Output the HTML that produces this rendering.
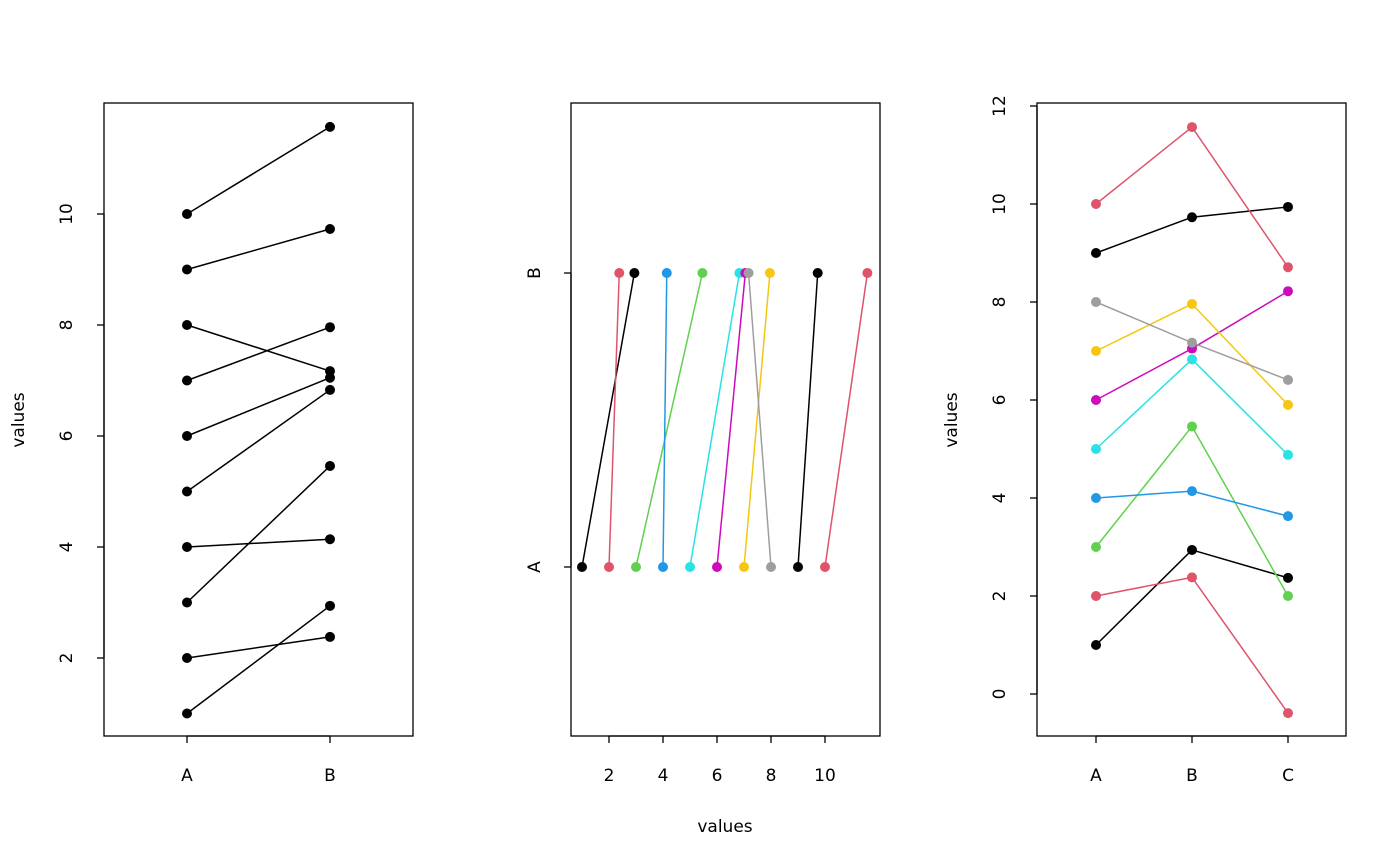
<!DOCTYPE html>
<html><head><meta charset="utf-8"><style>
html,body{margin:0;padding:0;background:#fff;}
svg{display:block;font-family:"DejaVu Sans","Liberation Sans",sans-serif;}
</style></head><body>
<svg id="chart" width="1400" height="866" viewBox="0 0 1400 866" xmlns="http://www.w3.org/2000/svg"></svg>
<script>
const categories = ["A","B","C"];
const valuesA = [1,2,3,4,5,6,7,8,9,10];
const valuesB = [2.94,2.38,5.46,4.14,6.83,7.05,7.96,7.17,9.73,11.57];
const valuesC = [2.37,-0.39,2.0,3.63,4.88,8.22,5.9,6.41,9.94,8.71];
const seriesColors = ["#000000","#DF536B","#61D04F","#2297E6","#28E2E5","#CD0BBC","#F5C710","#9E9E9E","#000000","#DF536B"];
const p1Ticks = [2,4,6,8,10];
const p2Ticks = [2,4,6,8,10];
const p3Ticks = [0,2,4,6,8,10,12];

const svg = document.getElementById('chart');
const NS = "http://www.w3.org/2000/svg";
function el(tag, attrs, parent){
  const e = document.createElementNS(NS, tag);
  for (const k in attrs) e.setAttribute(k, attrs[k]);
  (parent||svg).appendChild(e);
  return e;
}
function txt(x,y,s,rot,name,anchor){
  const t = el('text',{x:x,y:y,'font-size':17,'text-anchor':anchor||'middle',fill:'#000'});
  if (rot) t.setAttribute('transform','rotate(-90 '+x+' '+y+')');
  t.textContent = s;
  
  
  return t;
}
function box(x0,y0,x1,y1,name){
  const r = el('rect',{x:x0,y:y0,width:x1-x0,height:y1-y0,fill:'none',stroke:'#000','stroke-width':1.3});
  
  
}
function line(x1,y1,x2,y2,c,name,w){
  const l = el('line',{x1:x1,y1:y1,x2:x2,y2:y2,stroke:c,'stroke-width':w||1.5});
  
  
}
function pt(x,y,c,name){
  const p = el('circle',{cx:x,cy:y,r:5,fill:c});
  
  
}

// Panel 1
const y1 = v => 658 - (v-2)*55.5;
const x1 = i => 187 + i*143;
box(104,103,413,736,'panel1-frame');
line(104,y1(p1Ticks[0]),104,y1(p1Ticks[p1Ticks.length-1]),'#000','p1-y-axis',1.3);
p1Ticks.forEach(t=>{ line(97,y1(t),104,y1(t),'#000','p1-y-tick',1.3); txt(72,y1(t),String(t),true,'p1-y-tick-label'); });
[0,1].forEach(i=>{ line(x1(i),736,x1(i),743,'#000','p1-x-tick',1.3); txt(x1(i),781,categories[i],false,'p1-x-tick-label'); });
line(x1(0),736,x1(1),736,'#000','p1-x-axis',1.3);
txt(24,420,'values',true,'p1-y-axis-title');
valuesA.forEach((a,i)=>{
  line(x1(0),y1(a),x1(1),y1(valuesB[i]),'#000','p1-pair-line');
  pt(x1(0),y1(a),'#000','p1-point-a');
  pt(x1(1),y1(valuesB[i]),'#000','p1-point-b');
});

// Panel 2
const x2 = v => 609 + (v-2)*27;
const yA = 567, yB = 273;
box(571,103,880,736,'panel2-frame');
p2Ticks.forEach(t=>{ line(x2(t),736,x2(t),743,'#000','p2-x-tick',1.3); txt(x2(t),781,String(t),false,'p2-x-tick-label'); });
line(x2(p2Ticks[0]),736,x2(p2Ticks[p2Ticks.length-1]),736,'#000','p2-x-axis',1.3);
line(564,yA,571,yA,'#000','p2-y-tick',1.3); txt(540,yA,categories[0],true,'p2-y-tick-label');
line(564,yB,571,yB,'#000','p2-y-tick',1.3); txt(540,yB,categories[1],true,'p2-y-tick-label');
line(571,yA,571,yB,'#000','p2-y-axis',1.3);
txt(725,832,'values',false,'p2-x-axis-title');
valuesA.forEach((a,i)=>{
  const c = seriesColors[i];
  line(x2(a),yA,x2(valuesB[i]),yB,c,'p2-pair-line');
  pt(x2(a),yA,c,'p2-point-a');
  pt(x2(valuesB[i]),yB,c,'p2-point-b');
});

// Panel 3
const y3 = v => 694 - v*49;
const x3 = i => 1096 + i*96;
box(1037,103,1346,736,'panel3-frame');
p3Ticks.forEach(t=>{ line(1030,y3(t),1037,y3(t),'#000','p3-y-tick',1.3); txt(1005,y3(t),String(t),true,'p3-y-tick-label'); });
line(1037,y3(p3Ticks[0]),1037,y3(p3Ticks[p3Ticks.length-1]),'#000','p3-y-axis',1.3);
[0,1,2].forEach(i=>{ line(x3(i),736,x3(i),743,'#000','p3-x-tick',1.3); txt(x3(i),781,categories[i],false,'p3-x-tick-label'); });
line(x3(0),736,x3(2),736,'#000','p3-x-axis',1.3);
txt(957,420,'values',true,'p3-y-axis-title');
valuesA.forEach((a,i)=>{
  const c = seriesColors[i];
  const vs = [a, valuesB[i], valuesC[i]];
  line(x3(0),y3(vs[0]),x3(1),y3(vs[1]),c,'p3-series-line');
  line(x3(1),y3(vs[1]),x3(2),y3(vs[2]),c,'p3-series-line');
  vs.forEach((v,j)=>pt(x3(j),y3(v),c,'p3-point'));
});
</script>
</body></html>
